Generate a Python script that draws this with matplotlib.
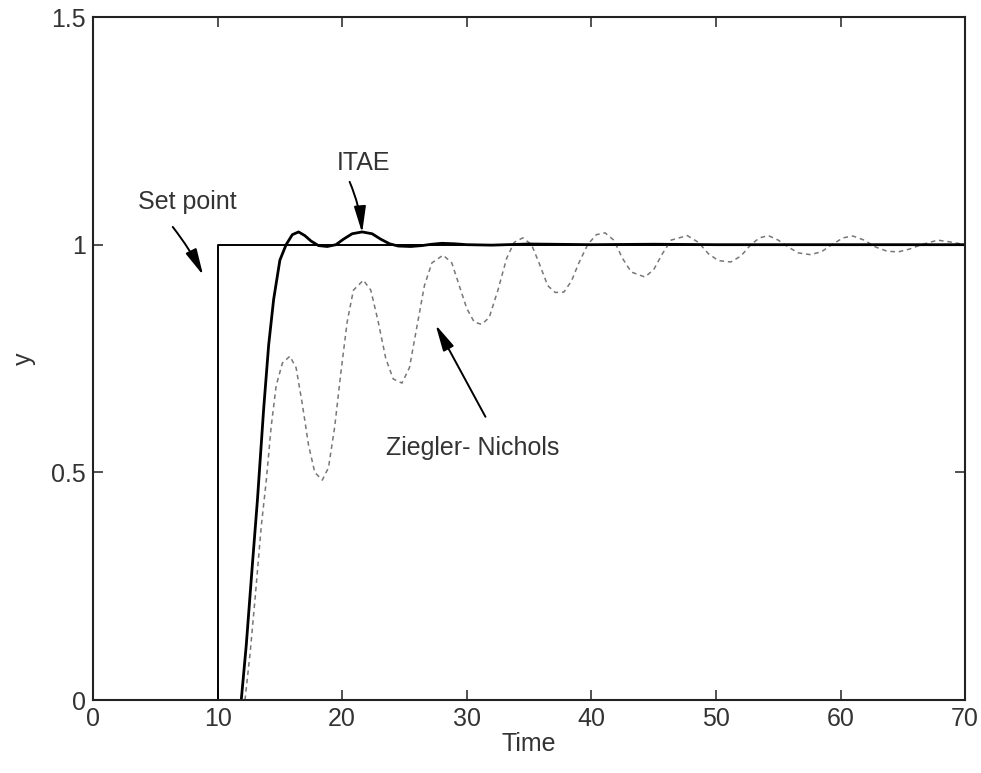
import numpy as np
import matplotlib
matplotlib.use("Agg")
import matplotlib.pyplot as plt

plt.rcParams['font.family'] = ['Liberation Sans', 'DejaVu Sans']

# -------------------------
# data
# -------------------------
setpoint_t = [0, 10, 10, 70]
setpoint_y = [0, 0, 1, 1]

itae_t = [11.9, 12.3, 12.8, 13.2, 13.7, 14.1, 14.5, 15.0, 15.5, 16.0, 16.5, 17.0,
          17.5, 18.1, 18.8, 19.5, 20.1, 20.8, 21.6, 22.4, 23.1, 23.8, 24.5, 25.5,
          26.4, 27.2, 28.0, 29.0, 30.0, 32.0, 35.0, 40.0, 45.0, 50.0, 60.0, 70.0]
itae_y = [0.0, 0.12, 0.30, 0.44, 0.64, 0.78, 0.88, 0.966, 1.0, 1.022, 1.028, 1.02,
          1.008, 0.998, 0.996, 1.0, 1.012, 1.024, 1.028, 1.024, 1.012, 1.002, 0.997, 0.996,
          0.998, 1.001, 1.003, 1.002, 1.0, 0.999, 1.0015, 1.0, 1.001, 1.0, 1.0, 1.0]

zn_t = [12.2, 12.6, 13.0, 13.5, 13.9, 14.3, 14.7, 15.2, 15.8, 16.3, 16.8, 17.3,
        17.8, 18.4, 18.9, 19.4, 19.9, 20.4, 20.9, 21.7, 22.3, 22.9, 23.5, 24.1,
        24.8, 25.4, 26.0, 26.6, 27.2, 28.1, 28.8, 29.4, 30.0, 30.6, 31.2, 31.8,
        32.5, 33.2, 33.8, 34.5, 35.2, 35.8, 36.5, 37.1, 37.8, 38.4, 39.0, 39.7,
        40.4, 41.1, 41.8, 42.5, 43.2, 44.3, 45.0, 45.7, 46.4, 47.7, 48.6, 49.4,
        50.2, 51.2, 52.0, 52.8, 53.5, 54.2, 55.0, 55.8, 56.6, 57.6, 58.5, 59.3,
        60.2, 61.0, 61.9, 62.8, 63.7, 64.6, 65.5, 66.5, 67.8, 68.8, 70.0]
zn_y = [0.0, 0.10, 0.22, 0.38, 0.48, 0.60, 0.69, 0.74, 0.755, 0.73, 0.65, 0.56,
        0.50, 0.483, 0.51, 0.60, 0.72, 0.83, 0.90, 0.922, 0.90, 0.83, 0.75, 0.705,
        0.696, 0.73, 0.82, 0.91, 0.96, 0.977, 0.96, 0.91, 0.86, 0.83, 0.825, 0.84,
        0.90, 0.97, 1.005, 1.015, 1.0, 0.96, 0.91, 0.895, 0.896, 0.92, 0.96, 1.0,
        1.022, 1.026, 1.01, 0.97, 0.94, 0.929, 0.945, 0.98, 1.01, 1.02, 1.005, 0.98,
        0.965, 0.962, 0.975, 1.0, 1.015, 1.02, 1.01, 0.995, 0.982, 0.978, 0.985, 1.0,
        1.015, 1.019, 1.01, 0.995, 0.986, 0.984, 0.99, 1.0, 1.01, 1.006, 1.0]

# -------------------------
# figure
# -------------------------
fig = plt.figure(figsize=(9.81, 7.73), dpi=100)
ax = fig.add_axes([0.0948, 0.0944, 0.889, 0.8836])

ax.plot(setpoint_t, setpoint_y, color='black', lw=1.4)
ax.plot(zn_t, zn_y, color='#777777', lw=1.1, ls=(0, (3, 2.5)))
ax.plot(itae_t, itae_y, color='black', lw=2.0)

ax.set_xlim(0, 70)
ax.set_ylim(0, 1.5)
ax.set_xticks(np.arange(0, 71, 10))
ax.set_yticks([0, 0.5, 1, 1.5])
ax.set_yticklabels(['0', '0.5', '1', '1.5'])
ax.tick_params(direction='in', top=True, right=True, length=7, width=1.2,
               labelsize=18, colors='#333333', pad=5)
for s in ax.spines.values():
    s.set_linewidth(1.5)
    s.set_color('#222222')

ax.set_xlabel('Time', fontsize=18, color='#333333', labelpad=1)
ax.set_ylabel('y', fontsize=18, color='#333333', labelpad=11)

# -------------------------
# labels and arrows
# -------------------------
arrow = dict(arrowstyle='-|>,head_length=0.8,head_width=0.18', color='black',
             lw=1.4, mutation_scale=20, shrinkA=0, shrinkB=0)
ax.text(7.6, 1.094, 'Set point', fontsize=18, ha='center', va='center', color='#333333')
ax.annotate('', xy=(8.84, 0.933), xytext=(6.4, 1.039),
            arrowprops=dict(arrow, connectionstyle='arc3,rad=-0.05'))
ax.text(21.7, 1.18, 'ITAE', fontsize=18, ha='center', va='center', color='#333333')
ax.annotate('', xy=(21.6, 1.026), xytext=(20.6, 1.138),
            arrowprops=dict(arrow, connectionstyle='arc3,rad=-0.08'))
ax.text(30.5, 0.553, 'Ziegler- Nichols', fontsize=18, ha='center', va='center', color='#333333')
ax.annotate('', xy=(27.5, 0.824), xytext=(31.5, 0.622), arrowprops=arrow)

plt.savefig('out.png', dpi=100)
